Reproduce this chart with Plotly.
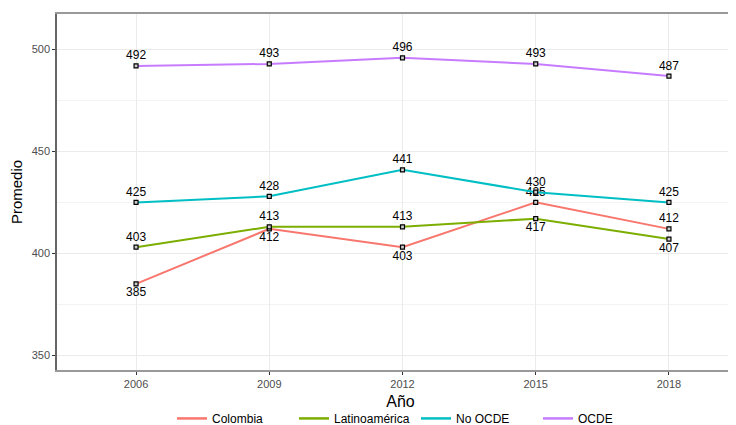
import plotly.graph_objects as go

years = [2006, 2009, 2012, 2015, 2018]
colombia = [385, 412, 403, 425, 412]
latam = [403, 413, 413, 417, 407]
no_ocde = [425, 428, 441, 430, 425]
ocde = [492, 493, 496, 493, 487]

series = [
    ("Colombia", colombia, "#F8766D", ["bottom center", "bottom center", "bottom center", "top center", "top center"]),
    ("Latinoamérica", latam, "#7CAE00", ["top center", "top center", "top center", "bottom center", "bottom center"]),
    ("No OCDE", no_ocde, "#00BFC4", ["top center"] * 5),
    ("OCDE", ocde, "#C77CFF", ["top center"] * 5),
]

fig = go.Figure()
for name, vals, col, pos in series:
    fig.add_trace(go.Scatter(
        x=years, y=vals, name=name, mode="lines+markers+text",
        line=dict(color=col, width=2),
        marker=dict(symbol="square", size=4, color="#cccccc", line=dict(color="black", width=1.2)),
        text=[str(v) for v in vals], textposition=pos,
        textfont=dict(family="Liberation Sans, Arial", size=12, color="black"),
        cliponaxis=False, showlegend=False,
    ))
for name, vals, col, pos in series:
    fig.add_trace(go.Scatter(
        x=[None], y=[None], name=name, mode="lines",
        line=dict(color=col, width=2.5), showlegend=True,
    ))

fig.update_layout(
    width=736, height=425,
    margin=dict(l=49, r=0, t=6, b=59),
    paper_bgcolor="white", plot_bgcolor="white",
    font=dict(family="Liberation Sans, Arial", color="#4d4d4d", size=11),
    showlegend=True,
    legend=dict(orientation="h", x=0.5226, xanchor="center", y=-0.136, yanchor="middle",
                font=dict(size=12, color="black"), itemwidth=30, traceorder="normal",
                entrywidth=77, entrywidthmode="pixels", tracegroupgap=0),
    xaxis=dict(range=[2004.22, 2019.69], tickvals=years, ticktext=[str(y) for y in years],
               showgrid=True, gridcolor="#ebebeb", gridwidth=1, zeroline=False, automargin=False,
               showline=True, linecolor="#999999", linewidth=1.5, mirror=True,
               ticks="outside", ticklen=3, tickcolor="#333333",
               title=dict(text="Año", font=dict(size=16, color="black"), standoff=7)),
    yaxis=dict(range=[342.7, 517.5], tickvals=[350, 400, 450, 500], automargin=False,
               showgrid=True, gridcolor="#ebebeb", gridwidth=1, zeroline=False,
               minor=dict(tickvals=[375, 425, 475], showgrid=True, gridcolor="#f3f3f3", gridwidth=1),
               showline=True, linecolor="#666666", linewidth=1.5,
               ticks="outside", ticklen=3, tickcolor="#333333",
               title=dict(text="Promedio", font=dict(size=15, color="black"), standoff=8)),
)

fig.write_html("out.html")
